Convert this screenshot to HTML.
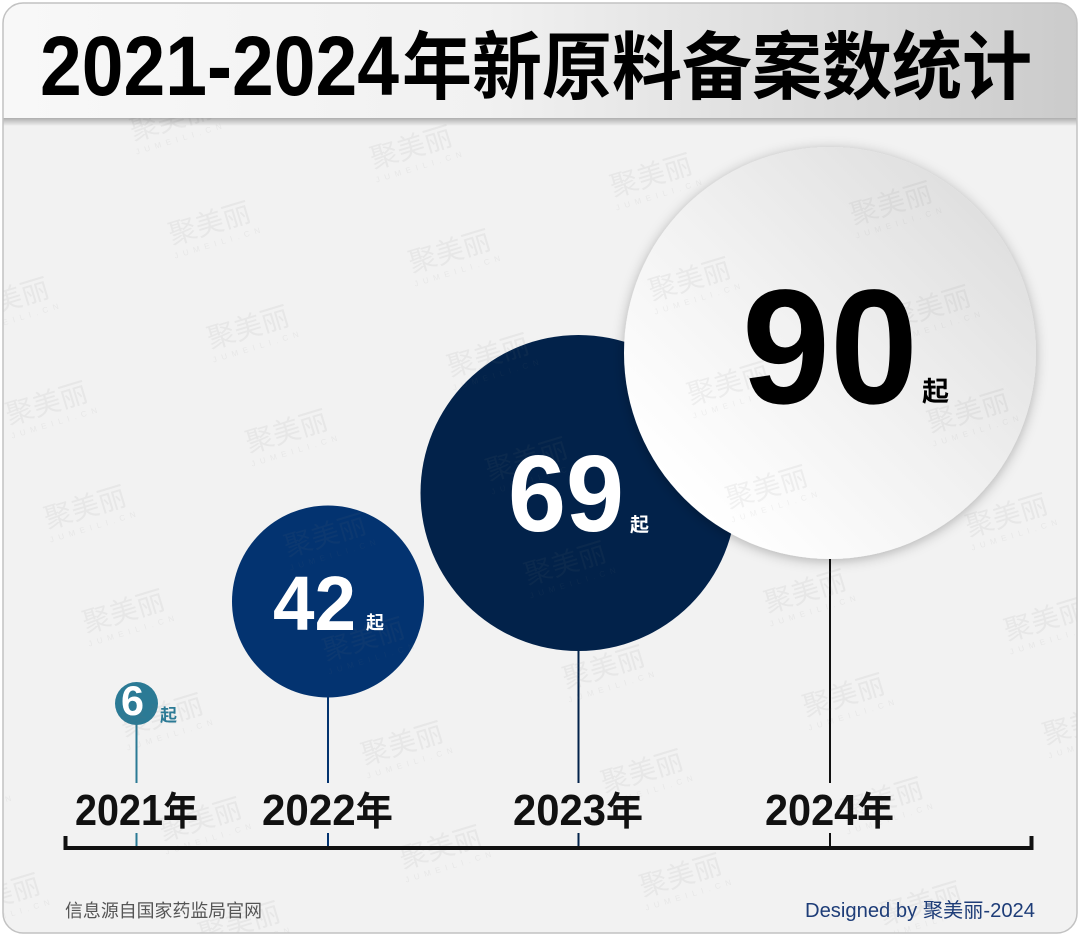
<!DOCTYPE html>
<html>
<head>
<meta charset="utf-8">
<style>
  html, body { margin: 0; padding: 0; background: #ffffff; }
  svg { display: block; }
  .cjk { font-family: "Liberation Sans", "Noto Sans CJK SC", sans-serif; }
  .wm text { font-family: "Liberation Sans", "Noto Sans CJK SC", sans-serif; fill: #7a7a7a; font-weight: normal; }
</style>
</head>
<body>
<svg width="1080" height="940" viewBox="0 0 1080 940" xmlns="http://www.w3.org/2000/svg">
  <defs>
    <clipPath id="frameClip">
      <rect x="3" y="3" width="1074" height="930" rx="20" ry="20"/>
    </clipPath>
    <linearGradient id="hdrGrad" x1="0" y1="0" x2="1" y2="0">
      <stop offset="0" stop-color="#f8f8f8"/>
      <stop offset="0.45" stop-color="#f1f1f1"/>
      <stop offset="1" stop-color="#cbcbcb"/>
    </linearGradient>
    <linearGradient id="hdrShadow" x1="0" y1="0" x2="0" y2="1">
      <stop offset="0" stop-color="#000" stop-opacity="0.28"/>
      <stop offset="1" stop-color="#000" stop-opacity="0"/>
    </linearGradient>
    <linearGradient id="bigGrad" x1="0.15" y1="0.85" x2="0.85" y2="0.15">
      <stop offset="0" stop-color="#ffffff"/>
      <stop offset="0.5" stop-color="#f1f1f1"/>
      <stop offset="1" stop-color="#e0e0e0"/>
    </linearGradient>
    <filter id="shadow" x="-20%" y="-20%" width="140%" height="140%">
      <feDropShadow dx="0" dy="2" stdDeviation="6" flood-color="#000" flood-opacity="0.28"/>
    </filter>
  </defs>

  <!-- frame -->
  <rect x="3" y="3" width="1074" height="930" rx="20" ry="20" fill="#f2f2f2"/>

  <g clip-path="url(#frameClip)">
    <!-- stems -->
    <g stroke-width="2" fill="none">
      <line x1="136.5" y1="715" x2="136.5" y2="783" stroke="#2b7a95"/>
      <line x1="136.5" y1="833" x2="136.5" y2="848" stroke="#2b7a95"/>
      <line x1="328" y1="650" x2="328" y2="783" stroke="#03336f"/>
      <line x1="328" y1="833" x2="328" y2="848" stroke="#03336f"/>
      <line x1="578.5" y1="600" x2="578.5" y2="783" stroke="#02224a"/>
      <line x1="578.5" y1="833" x2="578.5" y2="848" stroke="#02224a"/>
      <line x1="830" y1="500" x2="830" y2="783" stroke="#111111"/>
      <line x1="830" y1="833" x2="830" y2="848" stroke="#111111"/>
    </g>

    <!-- circles -->
    <circle cx="136.5" cy="703.5" r="21.5" fill="#2b7a95"/>
    <circle cx="328" cy="601.5" r="96" fill="#033370"/>
    <circle cx="578.5" cy="493" r="158" fill="#02224a"/>
    <circle cx="830" cy="353" r="206" fill="url(#bigGrad)" filter="url(#shadow)"/>

    <!-- watermarks -->
    <g class="wm" opacity="0.09">
      <g transform="translate(171.5,121) rotate(-17)"><text x="0" y="8" font-size="28" text-anchor="middle">聚美丽</text><text x="4" y="22" font-size="8" letter-spacing="5" text-anchor="middle">JUMEILI.CN</text></g>
      <g transform="translate(411.5,149) rotate(-17)"><text x="0" y="8" font-size="28" text-anchor="middle">聚美丽</text><text x="4" y="22" font-size="8" letter-spacing="5" text-anchor="middle">JUMEILI.CN</text></g>
      <g transform="translate(651.5,177) rotate(-17)"><text x="0" y="8" font-size="28" text-anchor="middle">聚美丽</text><text x="4" y="22" font-size="8" letter-spacing="5" text-anchor="middle">JUMEILI.CN</text></g>
      <g transform="translate(891.5,205) rotate(-17)"><text x="0" y="8" font-size="28" text-anchor="middle">聚美丽</text><text x="4" y="22" font-size="8" letter-spacing="5" text-anchor="middle">JUMEILI.CN</text></g>

      <g transform="translate(210,225) rotate(-17)"><text x="0" y="8" font-size="28" text-anchor="middle">聚美丽</text><text x="4" y="22" font-size="8" letter-spacing="5" text-anchor="middle">JUMEILI.CN</text></g>
      <g transform="translate(450,253) rotate(-17)"><text x="0" y="8" font-size="28" text-anchor="middle">聚美丽</text><text x="4" y="22" font-size="8" letter-spacing="5" text-anchor="middle">JUMEILI.CN</text></g>
      <g transform="translate(690,281) rotate(-17)"><text x="0" y="8" font-size="28" text-anchor="middle">聚美丽</text><text x="4" y="22" font-size="8" letter-spacing="5" text-anchor="middle">JUMEILI.CN</text></g>
      <g transform="translate(930,309) rotate(-17)"><text x="0" y="8" font-size="28" text-anchor="middle">聚美丽</text><text x="4" y="22" font-size="8" letter-spacing="5" text-anchor="middle">JUMEILI.CN</text></g>

      <g transform="translate(8.5,301) rotate(-17)"><text x="0" y="8" font-size="28" text-anchor="middle">聚美丽</text><text x="4" y="22" font-size="8" letter-spacing="5" text-anchor="middle">JUMEILI.CN</text></g>
      <g transform="translate(248.5,329) rotate(-17)"><text x="0" y="8" font-size="28" text-anchor="middle">聚美丽</text><text x="4" y="22" font-size="8" letter-spacing="5" text-anchor="middle">JUMEILI.CN</text></g>
      <g transform="translate(488.5,357) rotate(-17)"><text x="0" y="8" font-size="28" text-anchor="middle">聚美丽</text><text x="4" y="22" font-size="8" letter-spacing="5" text-anchor="middle">JUMEILI.CN</text></g>
      <g transform="translate(728.5,385) rotate(-17)"><text x="0" y="8" font-size="28" text-anchor="middle">聚美丽</text><text x="4" y="22" font-size="8" letter-spacing="5" text-anchor="middle">JUMEILI.CN</text></g>
      <g transform="translate(968.5,413) rotate(-17)"><text x="0" y="8" font-size="28" text-anchor="middle">聚美丽</text><text x="4" y="22" font-size="8" letter-spacing="5" text-anchor="middle">JUMEILI.CN</text></g>

      <g transform="translate(47,405) rotate(-17)"><text x="0" y="8" font-size="28" text-anchor="middle">聚美丽</text><text x="4" y="22" font-size="8" letter-spacing="5" text-anchor="middle">JUMEILI.CN</text></g>
      <g transform="translate(287,433) rotate(-17)"><text x="0" y="8" font-size="28" text-anchor="middle">聚美丽</text><text x="4" y="22" font-size="8" letter-spacing="5" text-anchor="middle">JUMEILI.CN</text></g>
      <g transform="translate(527,461) rotate(-17)"><text x="0" y="8" font-size="28" text-anchor="middle">聚美丽</text><text x="4" y="22" font-size="8" letter-spacing="5" text-anchor="middle">JUMEILI.CN</text></g>
      <g transform="translate(767,489) rotate(-17)"><text x="0" y="8" font-size="28" text-anchor="middle">聚美丽</text><text x="4" y="22" font-size="8" letter-spacing="5" text-anchor="middle">JUMEILI.CN</text></g>
      <g transform="translate(1007,517) rotate(-17)"><text x="0" y="8" font-size="28" text-anchor="middle">聚美丽</text><text x="4" y="22" font-size="8" letter-spacing="5" text-anchor="middle">JUMEILI.CN</text></g>

      <g transform="translate(85.5,509) rotate(-17)"><text x="0" y="8" font-size="28" text-anchor="middle">聚美丽</text><text x="4" y="22" font-size="8" letter-spacing="5" text-anchor="middle">JUMEILI.CN</text></g>
      <g transform="translate(325.5,537) rotate(-17)"><text x="0" y="8" font-size="28" text-anchor="middle">聚美丽</text><text x="4" y="22" font-size="8" letter-spacing="5" text-anchor="middle">JUMEILI.CN</text></g>
      <g transform="translate(565.5,565) rotate(-17)"><text x="0" y="8" font-size="28" text-anchor="middle">聚美丽</text><text x="4" y="22" font-size="8" letter-spacing="5" text-anchor="middle">JUMEILI.CN</text></g>
      <g transform="translate(805.5,593) rotate(-17)"><text x="0" y="8" font-size="28" text-anchor="middle">聚美丽</text><text x="4" y="22" font-size="8" letter-spacing="5" text-anchor="middle">JUMEILI.CN</text></g>
      <g transform="translate(1045.5,621) rotate(-17)"><text x="0" y="8" font-size="28" text-anchor="middle">聚美丽</text><text x="4" y="22" font-size="8" letter-spacing="5" text-anchor="middle">JUMEILI.CN</text></g>

      <g transform="translate(124,613) rotate(-17)"><text x="0" y="8" font-size="28" text-anchor="middle">聚美丽</text><text x="4" y="22" font-size="8" letter-spacing="5" text-anchor="middle">JUMEILI.CN</text></g>
      <g transform="translate(364,641) rotate(-17)"><text x="0" y="8" font-size="28" text-anchor="middle">聚美丽</text><text x="4" y="22" font-size="8" letter-spacing="5" text-anchor="middle">JUMEILI.CN</text></g>
      <g transform="translate(604,669) rotate(-17)"><text x="0" y="8" font-size="28" text-anchor="middle">聚美丽</text><text x="4" y="22" font-size="8" letter-spacing="5" text-anchor="middle">JUMEILI.CN</text></g>
      <g transform="translate(844,697) rotate(-17)"><text x="0" y="8" font-size="28" text-anchor="middle">聚美丽</text><text x="4" y="22" font-size="8" letter-spacing="5" text-anchor="middle">JUMEILI.CN</text></g>
      <g transform="translate(1084,725) rotate(-17)"><text x="0" y="8" font-size="28" text-anchor="middle">聚美丽</text><text x="4" y="22" font-size="8" letter-spacing="5" text-anchor="middle">JUMEILI.CN</text></g>

      <g transform="translate(162.5,717) rotate(-17)"><text x="0" y="8" font-size="28" text-anchor="middle">聚美丽</text><text x="4" y="22" font-size="8" letter-spacing="5" text-anchor="middle">JUMEILI.CN</text></g>
      <g transform="translate(402.5,745) rotate(-17)"><text x="0" y="8" font-size="28" text-anchor="middle">聚美丽</text><text x="4" y="22" font-size="8" letter-spacing="5" text-anchor="middle">JUMEILI.CN</text></g>
      <g transform="translate(642.5,773) rotate(-17)"><text x="0" y="8" font-size="28" text-anchor="middle">聚美丽</text><text x="4" y="22" font-size="8" letter-spacing="5" text-anchor="middle">JUMEILI.CN</text></g>
      <g transform="translate(882.5,801) rotate(-17)"><text x="0" y="8" font-size="28" text-anchor="middle">聚美丽</text><text x="4" y="22" font-size="8" letter-spacing="5" text-anchor="middle">JUMEILI.CN</text></g>

      <g transform="translate(-39,793) rotate(-17)"><text x="0" y="8" font-size="28" text-anchor="middle">聚美丽</text><text x="4" y="22" font-size="8" letter-spacing="5" text-anchor="middle">JUMEILI.CN</text></g>
      <g transform="translate(201,821) rotate(-17)"><text x="0" y="8" font-size="28" text-anchor="middle">聚美丽</text><text x="4" y="22" font-size="8" letter-spacing="5" text-anchor="middle">JUMEILI.CN</text></g>
      <g transform="translate(441,849) rotate(-17)"><text x="0" y="8" font-size="28" text-anchor="middle">聚美丽</text><text x="4" y="22" font-size="8" letter-spacing="5" text-anchor="middle">JUMEILI.CN</text></g>
      <g transform="translate(681,877) rotate(-17)"><text x="0" y="8" font-size="28" text-anchor="middle">聚美丽</text><text x="4" y="22" font-size="8" letter-spacing="5" text-anchor="middle">JUMEILI.CN</text></g>
      <g transform="translate(921,905) rotate(-17)"><text x="0" y="8" font-size="28" text-anchor="middle">聚美丽</text><text x="4" y="22" font-size="8" letter-spacing="5" text-anchor="middle">JUMEILI.CN</text></g>

      <g transform="translate(-0.5,897) rotate(-17)"><text x="0" y="8" font-size="28" text-anchor="middle">聚美丽</text><text x="4" y="22" font-size="8" letter-spacing="5" text-anchor="middle">JUMEILI.CN</text></g>
      <g transform="translate(239.5,925) rotate(-17)"><text x="0" y="8" font-size="28" text-anchor="middle">聚美丽</text><text x="4" y="22" font-size="8" letter-spacing="5" text-anchor="middle">JUMEILI.CN</text></g>
    </g>

    <!-- numbers -->
    <text x="121" y="715" font-family="Liberation Sans, sans-serif" font-weight="bold" font-size="42" fill="#ffffff" textLength="23" lengthAdjust="spacingAndGlyphs">6</text>
    <text x="160" y="721" class="cjk" font-weight="bold" font-size="17" fill="#2b7a95">起</text>

    <text x="273" y="630" font-family="Liberation Sans, sans-serif" font-weight="bold" font-size="77" fill="#ffffff" textLength="83" lengthAdjust="spacingAndGlyphs">42</text>
    <text x="366" y="629" class="cjk" font-weight="bold" font-size="18" fill="#ffffff">起</text>

    <text x="508" y="531" font-family="Liberation Sans, sans-serif" font-weight="bold" font-size="109" fill="#ffffff" textLength="116" lengthAdjust="spacingAndGlyphs">69</text>
    <text x="630" y="531" class="cjk" font-weight="bold" font-size="19" fill="#ffffff">起</text>

    <text x="742" y="403" font-family="Liberation Sans, sans-serif" font-weight="bold" font-size="163" fill="#000000" textLength="176" lengthAdjust="spacingAndGlyphs">90</text>
    <text x="922" y="401" class="cjk" font-weight="bold" font-size="27" fill="#000000">起</text>

    <!-- year labels -->
    <g class="cjk" font-weight="bold" font-size="44" fill="#111111">
      <text x="75" y="825" textLength="123" lengthAdjust="spacingAndGlyphs">2021<tspan font-size="39">年</tspan></text>
      <text x="262" y="825" textLength="131" lengthAdjust="spacingAndGlyphs">2022<tspan font-size="39">年</tspan></text>
      <text x="513" y="825" textLength="130" lengthAdjust="spacingAndGlyphs">2023<tspan font-size="39">年</tspan></text>
      <text x="765" y="825" textLength="129" lengthAdjust="spacingAndGlyphs">2024<tspan font-size="39">年</tspan></text>
    </g>

    <!-- axis -->
    <path d="M65.5 836 V848 H1031.5 V836" stroke="#111111" stroke-width="4" fill="none" stroke-linejoin="miter"/>

    <!-- footer -->
    <text x="65" y="917" class="cjk" font-size="18" fill="#555555" textLength="197" lengthAdjust="spacingAndGlyphs">信息源自国家药监局官网</text>
    <text x="805" y="917" class="cjk" font-size="20" fill="#1e3d78" textLength="230" lengthAdjust="spacingAndGlyphs">Designed by 聚美丽-2024</text>

    <!-- header -->
    <rect x="0" y="118" width="1080" height="8" fill="url(#hdrShadow)"/>
    <rect x="0" y="0" width="1080" height="118" fill="url(#hdrGrad)"/>
    <text x="40" y="95" font-family="Liberation Sans, sans-serif" font-weight="bold" font-size="84" fill="#000000" textLength="359" lengthAdjust="spacingAndGlyphs">2021-2024</text>
    <text x="402" y="93" class="cjk" font-weight="bold" font-size="74" fill="#000000" textLength="630" lengthAdjust="spacingAndGlyphs">年新原料备案数统计</text>
  </g>

  <!-- frame border -->
  <rect x="3" y="3" width="1074" height="930" rx="20" ry="20" fill="none" stroke="#c2c2c2" stroke-width="1.5"/>
</svg>
</body>
</html>
